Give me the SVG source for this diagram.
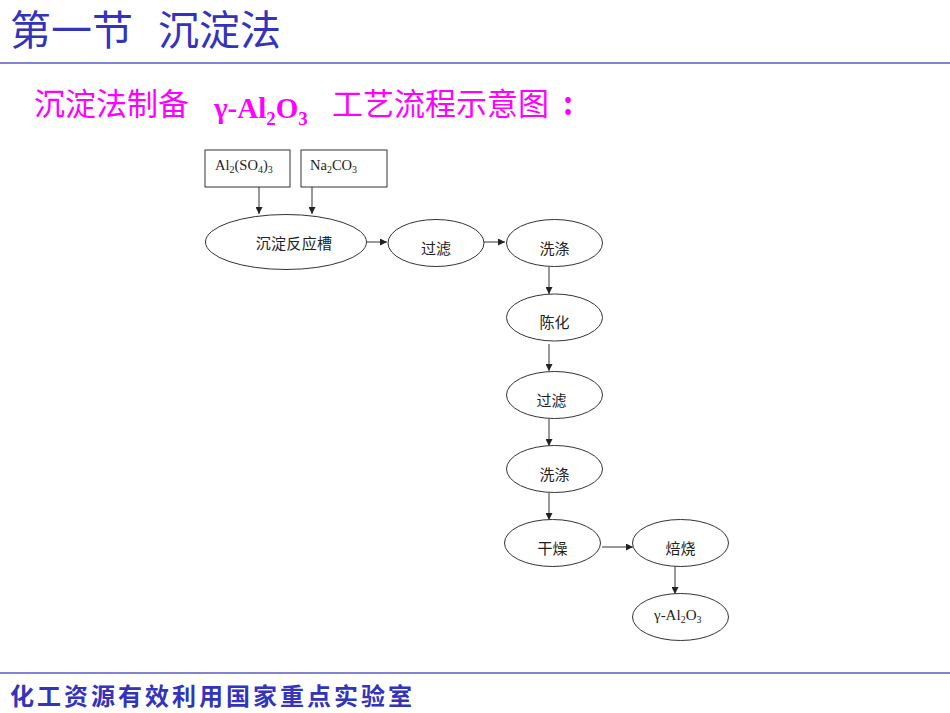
<svg xmlns="http://www.w3.org/2000/svg" width="950" height="713" viewBox="0 0 950 713">
<style>
.cjk{font-family:"Noto Sans CJK SC","Noto Sans",sans-serif}
.lat{font-family:"Liberation Serif","Noto Sans CJK SC",serif}
.title{font-size:41px;fill:#3333bb}
.head{font-size:31px;fill:#ff00ff}
.foot{font-size:24px;fill:#3333bb;font-weight:700;letter-spacing:3px}
.lab{font-size:15px;fill:#222;text-anchor:middle}
.chem{font-size:14.5px;fill:#222}
.node{fill:#fff;stroke:#333;stroke-width:1}
.rule{stroke:#5a5ac0;stroke-width:1.3}
.conn{stroke:#333;stroke-width:1;fill:none;marker-end:url(#arr)}
</style>
<defs><marker id="arr" markerUnits="userSpaceOnUse" markerWidth="7" markerHeight="7" refX="7" refY="3.5" orient="auto"><path d="M0 0L7 3.5L0 7z" fill="#222"/></marker></defs>
<rect width="950" height="713" fill="#fff"/>
<g id="header">
<text class="cjk title" x="10" y="45">第一节</text>
<text class="cjk title" x="158" y="45">沉淀法</text>
<line class="rule" x1="0" y1="63" x2="950" y2="63"/>
<text class="cjk head" x="34" y="115">沉淀法制备</text>
<text class="lat head" x="214" y="118" font-size="31" font-weight="700" style="font-size:29px">γ-Al<tspan dy="7" style="font-size:19px">2</tspan><tspan dy="-7">O</tspan><tspan dy="7" style="font-size:19px">3</tspan></text>
<text class="cjk head" x="332" y="115">工艺流程示意图</text>
<text class="cjk head" x="563" y="115" style="font-weight:700">:</text>
</g>
<g id="connectors">
<path class="conn" d="M259 187V214"/>
<path class="conn" d="M312 187V214"/>
<path class="conn" d="M366 242H387"/>
<path class="conn" d="M484 242H505"/>
<path class="conn" d="M549 267V294"/>
<path class="conn" d="M549 344V371"/>
<path class="conn" d="M549 419V446"/>
<path class="conn" d="M549 493V520"/>
<path class="conn" d="M602 547H633"/>
<path class="conn" d="M675 566V594"/>
</g>
<g id="n-al2so43"><rect class="node" x="205" y="150" width="85" height="37"/><text class="lat chem" x="215" y="170">Al<tspan dy="3" style="font-size:10px">2</tspan><tspan dy="-3">(SO</tspan><tspan dy="3" style="font-size:10px">4</tspan><tspan dy="-3">)</tspan><tspan dy="3" style="font-size:10px">3</tspan></text></g>
<g id="n-na2co3"><rect class="node" x="301" y="150" width="86" height="37"/><text class="lat chem" x="310" y="170">Na<tspan dy="3" style="font-size:10px">2</tspan><tspan dy="-3">CO</tspan><tspan dy="3" style="font-size:10px">3</tspan></text></g>
<g id="n-reactor"><ellipse class="node" cx="286" cy="242" rx="80.500" ry="27.500"/><text class="cjk lab" x="294" y="249" style="letter-spacing:.3px">沉淀反应槽</text></g>
<g id="n-filter1"><ellipse class="node" cx="436" cy="243" rx="48" ry="23.500"/><text class="cjk lab" x="436" y="254">过滤</text></g>
<g id="n-wash1"><ellipse class="node" cx="554.500" cy="243" rx="48" ry="23.500"/><text class="cjk lab" x="554.500" y="254">洗涤</text></g>
<g id="n-age"><ellipse class="node" cx="554.500" cy="317.500" rx="48" ry="23.500"/><text class="cjk lab" x="554.500" y="328">陈化</text></g>
<g id="n-filter2"><ellipse class="node" cx="554.500" cy="395" rx="48" ry="23.500"/><text class="cjk lab" x="551.500" y="406">过滤</text></g>
<g id="n-wash2"><ellipse class="node" cx="554.500" cy="469" rx="48" ry="23.500"/><text class="cjk lab" x="554.500" y="480">洗涤</text></g>
<g id="n-dry"><ellipse class="node" cx="552.500" cy="543" rx="48" ry="23.500"/><text class="cjk lab" x="552.500" y="554">干燥</text></g>
<g id="n-calcine"><ellipse class="node" cx="680.500" cy="543" rx="48" ry="23.500"/><text class="cjk lab" x="680.500" y="554">焙烧</text></g>
<g id="n-product"><ellipse class="node" cx="680.500" cy="617" rx="48" ry="23.500"/><text class="lat chem" x="654" y="620" style="font-size:15px">γ-Al<tspan dy="3" style="font-size:10px">2</tspan><tspan dy="-3">O</tspan><tspan dy="3" style="font-size:10px">3</tspan></text></g>
<g id="footer">
<line class="rule" x1="0" y1="673" x2="950" y2="673"/>
<text class="cjk foot" x="10" y="705">化工资源有效利用国家重点实验室</text>
</g>
</svg>
